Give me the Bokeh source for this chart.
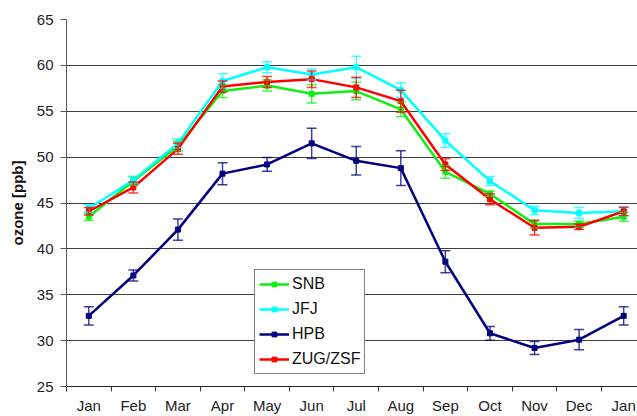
from bokeh.plotting import figure
from bokeh.models import (Range1d, FixedTicker, ColumnDataSource, Whisker, TeeHead,
                          Legend, LegendItem)
from bokeh.embed import file_html
from bokeh.resources import INLINE

months = ["Jan", "Feb", "Mar", "Apr", "May", "Jun", "Jul", "Aug", "Sep", "Oct", "Nov", "Dec", "Jan"]

snb = [43.5, 47.4, 51.2, 57.2, 57.8, 56.9, 57.2, 55.2, 48.4, 46.0, 42.7, 42.7, 43.5]
snb_err = [0.4, 0.5, 0.5, 0.7, 0.6, 1.0, 0.95, 0.8, 0.7, 0.3, 0.45, 0.35, 0.5]
jfj = [44.4, 47.5, 51.5, 58.3, 59.8, 59.0, 59.8, 57.3, 51.8, 47.4, 44.2, 43.9, 44.1]
jfj_err = [0.4, 0.4, 0.5, 0.8, 0.6, 0.6, 1.2, 0.8, 0.75, 0.5, 0.45, 0.6, 0.5]
hpb = [32.7, 37.1, 42.1, 48.2, 49.2, 51.5, 49.6, 48.8, 38.6, 30.8, 29.2, 30.1, 32.7]
hpb_err = [1.0, 0.6, 1.15, 1.2, 0.75, 1.65, 1.55, 1.9, 1.2, 0.75, 0.7, 1.1, 1.0]
zug = [44.1, 46.7, 50.9, 57.7, 58.2, 58.5, 57.6, 56.1, 49.2, 45.4, 42.3, 42.4, 44.1]
zug_err = [0.4, 0.6, 0.6, 0.6, 0.6, 0.9, 1.1, 1.2, 0.65, 0.6, 0.8, 0.3, 0.45]

series = [
    ("SNB", snb, snb_err, "#11ee11"),
    ("JFJ", jfj, jfj_err, "#00ffff"),
    ("HPB", hpb, hpb_err, "#000080"),
    ("ZUG/ZSF", zug, zug_err, "#ff0000"),
]

y_ticks = [25, 30, 35, 40, 45, 50, 55, 60, 65]

FONT = "Liberation Sans"
FS = "15px"

p = figure(width=637, height=416, output_backend="svg", toolbar_location=None,
           x_range=Range1d(-0.5, 12.31), y_range=Range1d(25, 65),
           min_border_left=66, min_border_right=0, min_border_top=19, min_border_bottom=28)
p.outline_line_color = None
p.background_fill_color = "white"
p.border_fill_color = "white"

# x axis
xi = list(range(len(months)))
p.xaxis.ticker = FixedTicker(ticks=xi, minor_ticks=[i - 0.5 for i in range(len(months) + 1)])
p.xaxis.major_label_overrides = {i: m for i, m in enumerate(months)}
p.xaxis.major_tick_out = 0
p.xaxis.major_tick_in = 0
p.xaxis.minor_tick_out = 5
p.xaxis.minor_tick_in = 0
p.xaxis.minor_tick_line_color = "#333333"
p.xaxis.axis_line_color = "#222222"
p.xaxis.major_label_standoff = 5
p.xaxis.major_label_text_font = FONT
p.xaxis.major_label_text_font_size = FS
p.xaxis.major_label_text_color = "#222222"

# y axis
p.yaxis.ticker = FixedTicker(ticks=y_ticks)
p.yaxis.minor_tick_line_color = None
p.yaxis.major_tick_out = 6
p.yaxis.major_tick_in = 0
p.yaxis.major_tick_line_color = "#555555"
p.yaxis.axis_line_color = "#555555"
p.yaxis.major_label_standoff = 7
p.yaxis.major_label_text_font = FONT
p.yaxis.major_label_text_font_size = FS
p.yaxis.major_label_text_color = "#222222"
p.yaxis.axis_label = "ozone [ppb]"
p.yaxis.axis_label_text_font = FONT
p.yaxis.axis_label_text_font_style = "bold"
p.yaxis.axis_label_text_font_size = "15px"
p.yaxis.axis_label_text_color = "#111111"
p.yaxis.axis_label_standoff = 8

p.xgrid.grid_line_color = None
p.ygrid.ticker = FixedTicker(ticks=y_ticks[1:])
p.ygrid.grid_line_color = "#000000"
p.ygrid.grid_line_alpha = 0.75
p.ygrid.grid_line_width = 1

items = []
for name, vals, errs, col in series:
    src = ColumnDataSource(dict(
        x=xi, y=vals,
        upper=[v + e for v, e in zip(vals, errs)],
        lower=[v - e for v, e in zip(vals, errs)],
    ))
    w = Whisker(base="x", upper="upper", lower="lower", source=src,
                line_color=col, line_alpha=0.75, line_width=1.5,
                upper_head=TeeHead(size=10, line_color=col, line_alpha=0.75, line_width=1.5),
                lower_head=TeeHead(size=10, line_color=col, line_alpha=0.75, line_width=1.5),
                level="glyph")
    p.add_layout(w)
    r1 = p.line("x", "y", source=src, line_color=col, line_width=2.5)
    r2 = p.scatter("x", "y", source=src, marker="square", size=5,
                   fill_color=col, line_color=col)
    items.append(LegendItem(label=name, renderers=[r1, r2]))

legend = Legend(items=items, location=(188, 12),
                label_text_font=FONT, label_text_font_size="16px",
                label_text_color="#111111",
                glyph_width=30, glyph_height=12, label_height=20,
                spacing=5, padding=4, margin=0, label_standoff=3,
                border_line_color="#000000", border_line_width=1,
                background_fill_color="white", background_fill_alpha=1)
p.add_layout(legend, "center")

open("out.html", "w").write(file_html(p, INLINE))
